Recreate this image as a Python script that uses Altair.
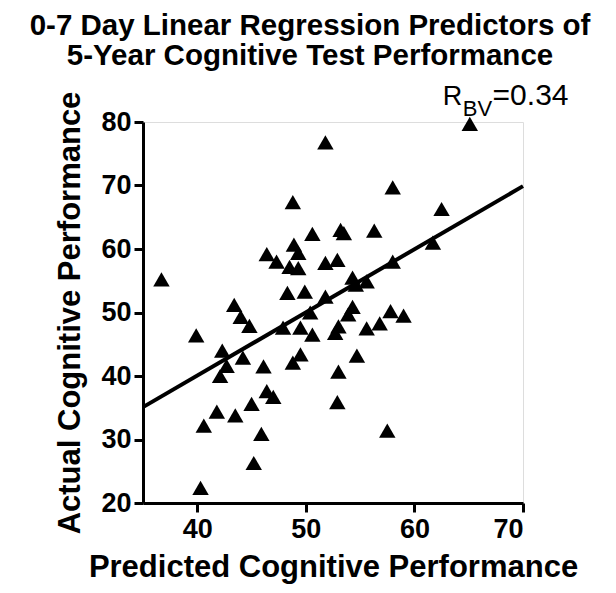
import altair as alt
import pandas as pd

predicted = [36.7, 51.8, 65.1, 48.8, 58.0, 62.5, 50.6, 53.2, 53.5, 56.3,
             61.7, 48.9, 49.3, 46.4, 47.3, 48.5, 49.3, 51.8, 52.9, 58.0,
             54.3, 55.6, 54.6, 48.3, 49.9, 51.8, 43.4, 54.3, 50.4, 53.9,
             57.8, 59.0, 44.0, 44.8, 56.8, 55.6, 53.0, 52.7, 47.9, 49.5,
             50.6, 39.9, 42.3, 44.2, 49.5, 54.7, 48.8, 42.7, 46.1, 42.1,
             53.0, 46.4, 47.0, 52.9, 45.0, 41.8, 43.5, 40.6, 57.5, 45.9,
             45.2, 40.3]
actual = [55.2, 76.8, 79.7, 67.4, 69.7, 66.3, 62.4, 63.0, 62.5, 62.9,
          61.0, 60.7, 59.4, 59.2, 58.0, 57.2, 57.0, 57.8, 58.3, 58.0,
          55.5, 54.9, 54.4, 53.1, 53.3, 52.5, 51.2, 50.9, 50.0, 49.7,
          50.2, 49.5, 49.3, 47.9, 48.3, 47.5, 47.8, 46.8, 47.6, 47.6,
          46.5, 46.4, 44.0, 42.9, 43.4, 43.2, 42.1, 41.6, 41.5, 40.0,
          40.7, 37.6, 36.7, 35.9, 35.6, 34.4, 33.8, 32.2, 31.4, 30.9,
          26.3, 22.4]

fit_x = [35, 70]
fit_y = [35.1, 69.9]

x_ticks = [40, 50, 60, 70]
y_ticks = [20, 30, 40, 50, 60, 70, 80]

FONT = "Liberation Sans"

pts = pd.DataFrame({"pred": predicted, "act": actual})
fit = pd.DataFrame({"pred": fit_x, "act": fit_y})

xscale = alt.Scale(domain=[35, 70], nice=False, zero=False)
yscale = alt.Scale(domain=[20, 80], nice=False, zero=False)

xaxis = alt.Axis(title="Predicted Cognitive Performance", values=x_ticks,
                 grid=False, domainColor="black", domainWidth=3,
                 tickColor="black", tickWidth=3, tickSize=9,
                 labelFont=FONT, labelFontSize=27, labelFontWeight="bold",
                 labelColor="black", labelPadding=4,
                 titleFont=FONT, titleFontSize=31, titleFontWeight="bold",
                 titleColor="black", titlePadding=10)
yaxis = alt.Axis(title="Actual Cognitive Performance", values=y_ticks,
                 grid=False, domainColor="black", domainWidth=3,
                 tickColor="black", tickWidth=3, tickSize=9,
                 labelFont=FONT, labelFontSize=27, labelFontWeight="bold",
                 labelColor="black", labelPadding=3,
                 titleFont=FONT, titleFontSize=31, titleFontWeight="bold",
                 titleColor="black", titlePadding=14)

points = alt.Chart(pts).mark_point(shape="triangle-up", filled=True,
                                   color="black", size=270, opacity=1).encode(
    x=alt.X("pred:Q", scale=xscale, axis=xaxis),
    y=alt.Y("act:Q", scale=yscale, axis=yaxis),
)

line = alt.Chart(fit).mark_line(color="black", strokeWidth=4).encode(
    x=alt.X("pred:Q", scale=xscale),
    y=alt.Y("act:Q", scale=yscale),
)

ann = pd.DataFrame({
    "pred": [62.6, 64.45, 67.2],
    "act": [82.6, 81.0, 82.6],
    "txt": ["R", "BV", "=0.34"],
    "fs": [27, 22, 30],
})
annot = alt.Chart(ann).mark_text(align="left", baseline="alphabetic",
                                 font=FONT, color="black").encode(
    x=alt.X("pred:Q", scale=xscale),
    y=alt.Y("act:Q", scale=yscale),
    text="txt:N",
    size=alt.Size("fs:Q", scale=None, legend=None),
)

chart = alt.layer(line, points, annot).properties(
    width=380, height=381,
    title=alt.TitleParams(
        text=["0-7 Day Linear Regression Predictors of",
              "5-Year Cognitive Test Performance"],
        font=FONT, fontSize=29.5, fontWeight="bold", color="black",
        anchor="middle", lineHeight=30, dx=-23, offset=10),
    padding={"left": 135, "top": 114, "right": 85, "bottom": 82},
    autosize=alt.AutoSizeParams(type="none"),
).configure_view(stroke=None).configure(background="white")

chart.save("out.html", embed_options={"renderer": "svg", "actions": False})
